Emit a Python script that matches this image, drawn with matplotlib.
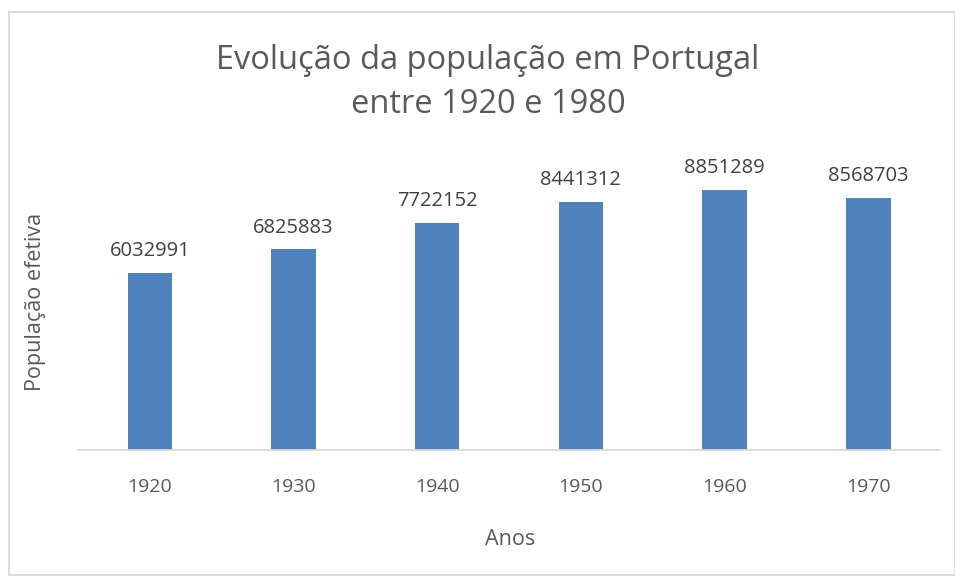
import matplotlib
matplotlib.use("Agg")
import matplotlib.pyplot as plt
from matplotlib.patches import Rectangle

anos = ["1920", "1930", "1940", "1950", "1960", "1970"]
populacao = [6032991, 6825883, 7722152, 8441312, 8851289, 8568703]

plt.rcParams['font.family'] = ['Open Sans', 'DejaVu Sans']
cor_texto = '#595959'

fig = plt.figure(figsize=(9.55, 5.8), dpi=100)
ax = fig.add_axes([0.0817, 0.224, 0.9027, 0.507])

x = range(len(anos))
bars = ax.bar(x, populacao, width=0.31, color='#4F81BD', zorder=2)
for b, v in zip(bars, populacao):
    ax.text(b.get_x() + b.get_width() / 2, v + 400000, str(v),
            ha='center', va='bottom', fontsize=14.5, color='#404040')

ax.set_xlim(-0.5, len(anos) - 0.5)
ax.set_ylim(0, 10000000)
ax.set_xticks(list(x))
ax.set_xticklabels(anos, fontsize=14, color=cor_texto)
ax.tick_params(axis='x', length=0, pad=20)
ax.set_yticks([])
for s in ['top', 'right', 'left']:
    ax.spines[s].set_visible(False)
ax.spines['bottom'].set_color('#D9D9D9')
ax.spines['bottom'].set_linewidth(1.3)

fig.text(0.534, 0.069, "Anos", ha='center', va='center', fontsize=15.5, color=cor_texto)
fig.text(0.037, 0.479, "População efetiva", ha='center', va='center', rotation=90,
         fontsize=15.5, color=cor_texto)
fig.text(0.511, 0.858, "Evolução da população em Portugal\nentre 1920 e 1980",
         ha='center', va='center', fontsize=23.5, color=cor_texto, linespacing=1.42)

fig.patches.append(Rectangle((0.0095, 0.008), 0.99, 0.971, transform=fig.transFigure,
                             fill=False, edgecolor='#D9D9D9', linewidth=1.3))

fig.savefig("out.png", dpi=100)
